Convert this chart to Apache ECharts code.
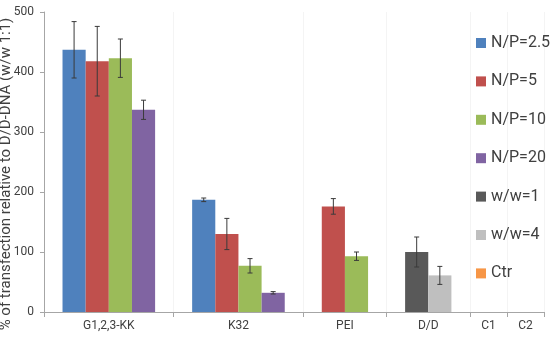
<!DOCTYPE html>
<html>
<head>
<meta charset="utf-8">
<script src="https://cdn.jsdelivr.net/npm/echarts@6/dist/echarts.min.js"></script>
<style>
html,body{margin:0;padding:0;background:#fff;}
#chart{width:552px;height:344px;}
</style>
</head>
<body>
<div id="chart"></div>
<script>
// groups on the x axis
var groups = ['G1,2,3-KK', 'K32', 'PEI', 'D/D', 'C1', 'C2'];
var seriesNames = ['N/P=2.5', 'N/P=5', 'N/P=10', 'N/P=20', 'w/w=1', 'w/w=4', 'Ctr'];
// values per group (null = no bar)
var np25 = [437, 187, null, null, null, null];
var np5 = [418, 130, 176, null, null, null];
var np10 = [423, 77, 93, null, null, null];
var np20 = [337, 32, null, null, null, null];
var ww1 = [null, null, null, 100, null, null];
var ww4 = [null, null, null, 61, null, null];
var ctr = [null, null, null, null, null, null];
// error (+/-)
var np25Err = [47, 3, null, null, null, null];
var np5Err = [58, 26, 13, null, null, null];
var np10Err = [32, 12, 7, null, null, null];
var np20Err = [16, 2, null, null, null, null];
var ww1Err = [null, null, null, 25, null, null];
var ww4Err = [null, null, null, 15, null, null];
var ctrErr = [null, null, null, null, null, null];
var yTicks = [0, 100, 200, 300, 400, 500];

var allVals = [np25, np5, np10, np20, ww1, ww4, ctr];
var allErrs = [np25Err, np5Err, np10Err, np20Err, ww1Err, ww4Err, ctrErr];
var colors = ['#4f81bd', '#c0504d', '#9bbb59', '#8064a2', '#595959', '#bfbfbf', '#f79646'];

// fine slots: each bar = SUB slots, GAP slots of space on each side of a group
var SUB = 5, GAP = 4;
var slotOf = []; // centre slot of bar [series][group]
var total = 0, bounds = [0], labelAt = {};
allVals.forEach(function(){ slotOf.push([]); });
groups.forEach(function(g, gi){
	var start = total; total += GAP;
	allVals.forEach(function(v, si){
		if (v[gi] != null) { slotOf[si][gi] = total + Math.floor(SUB / 2); total += SUB; }
	});
	total += GAP;
	labelAt[start + (total - start) / 2] = g;
	bounds.push(total);
});
var slotCats = [];
for (var i = 0; i < total; i++) slotCats.push('s' + i);
var edgeCats = [];
for (var i = 0; i <= total; i++) edgeCats.push(labelAt[i] || '');

var series = [];
var errData = [];
seriesNames.forEach(function(name, si){
	var d = [];
	for (var i = 0; i < total; i++) d.push(null);
	groups.forEach(function(g, gi){
		var v = allVals[si][gi];
		if (v != null) {
			d[slotOf[si][gi]] = v;
			if (allErrs[si][gi] != null) errData.push([slotOf[si][gi], v, allErrs[si][gi]]);
		}
	});
	series.push({ name: name, type: 'bar', xAxisIndex: 0, data: d, barGap: '-100%', barWidth: (SUB * 100) + '%',
		itemStyle: { color: colors[si] } });
});
series.push({
	type: 'custom', xAxisIndex: 0, data: errData, z: 10,
	renderItem: function(params, api){
		var x = api.value(0), v = api.value(1), e = api.value(2);
		var hi = api.coord([x, v + e]), lo = api.coord([x, v - e]);
		var st = { stroke: '#3a3a3a', lineWidth: 1 };
		return { type: 'group', children: [
			{ type: 'line', shape: { x1: hi[0], y1: hi[1], x2: lo[0], y2: lo[1] }, style: st },
			{ type: 'line', shape: { x1: hi[0] - 2.5, y1: hi[1], x2: hi[0] + 2.5, y2: hi[1] }, style: st },
			{ type: 'line', shape: { x1: lo[0] - 2.5, y1: lo[1], x2: lo[0] + 2.5, y2: lo[1] }, style: st }
		]};
	}
});

var chart = echarts.init(document.getElementById('chart'));
chart.setOption({
	animation: false,
	textStyle: { fontFamily: 'Roboto' },
	grid: { left: 44, right: 8, top: 12, bottom: 32, containLabel: false, outerBoundsMode: 'none' },
	legend: {
		orient: 'vertical', left: 471, top: 28, icon: 'rect', itemWidth: 10, itemHeight: 10, itemGap: 18.4,
		textStyle: { fontSize: 16, color: '#404040', lineHeight: 20, fontFamily: 'Roboto' },
		data: seriesNames
	},
	xAxis: [
		{ type: 'category', data: slotCats, position: 'bottom', boundaryGap: true, show: false },
		{ type: 'category', data: edgeCats, position: 'bottom', boundaryGap: false,
			axisLine: { lineStyle: { color: '#a6a6a6' } },
			axisTick: { length: 5, interval: function(idx){ return bounds.indexOf(idx) >= 0; }, lineStyle: { color: '#a6a6a6' } },
			axisLabel: { interval: 0, fontSize: 12, color: '#404040', margin: 8 },
			splitLine: { show: true, interval: function(idx){ return idx > 0 && bounds.indexOf(idx) >= 0; }, lineStyle: { color: '#f4f4f4' } }
		}
	],
	yAxis: {
		type: 'value', min: yTicks[0], max: yTicks[yTicks.length - 1], interval: 100,
		name: '% of transfection relative to D/D-DNA (w/w 1:1)', nameLocation: 'middle', nameGap: 30,
		nameMoveOverlap: false,
		nameTextStyle: { fontSize: 15, color: '#404040', padding: [0, 24, 0, 0] },
		axisLine: { show: true, lineStyle: { color: '#a6a6a6' } },
		axisTick: { show: true, length: 4, lineStyle: { color: '#a6a6a6' } },
		axisLabel: { fontSize: 12, color: '#404040', margin: 10 },
		splitLine: { show: false }
	},
	series: series
});
</script>
</body>
</html>
